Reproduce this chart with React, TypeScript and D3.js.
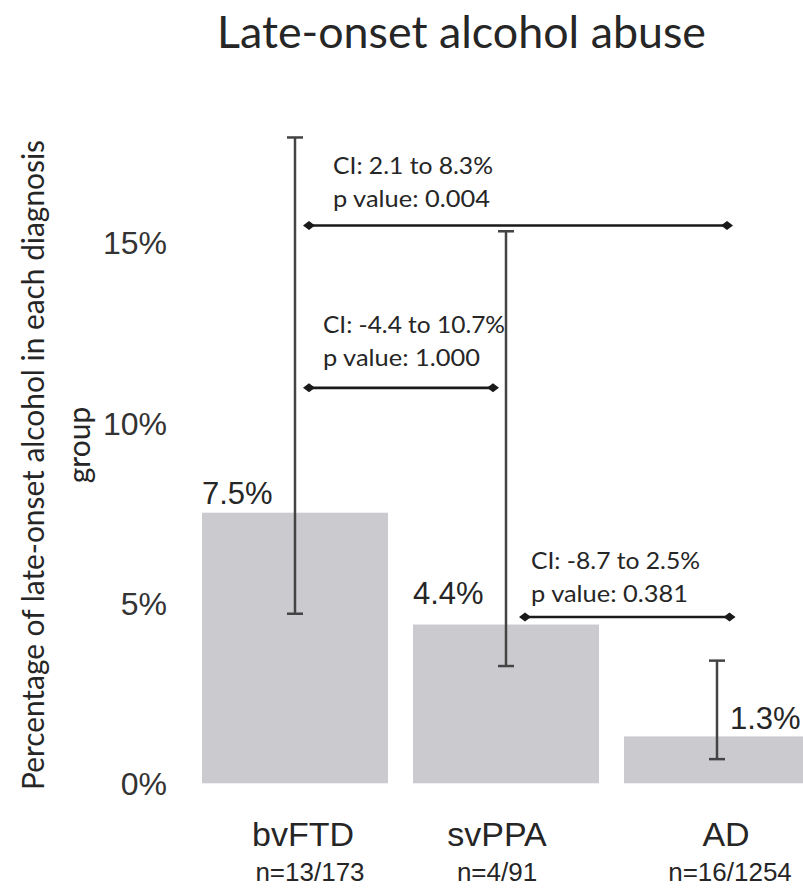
import React from "react";
import * as d3 from "d3";

// ---------- data ----------
const categories = ["bvFTD", "svPPA", "AD"];
const counts = ["n=13/173", "n=4/91", "n=16/1254"];
const percentages = [7.5, 4.4, 1.3];
const valueLabels = ["7.5%", "4.4%", "1.3%"];
const ciLow = [4.7, 3.25, 0.67];
const ciHigh = [17.9, 15.3, 3.4];
const yTicks = [0, 5, 10, 15];
const yTickLabels = ["0%", "5%", "10%", "15%"];
const compFrom = ["bvFTD", "bvFTD", "svPPA"];
const compTo = ["AD", "svPPA", "AD"];
const compCI = ["CI: 2.1 to 8.3%", "CI: -4.4 to 10.7%", "CI: -8.7 to 2.5%"];
const compP = ["p value: 0.004", "p value: 1.000", "p value: 0.381"];
const title = "Late-onset alcohol abuse";
const yLabelLines = ["Percentage of late-onset alcohol in each diagnosis", "group"];

// ---------- layout (positions/styles, not data) ----------
const W = 803;
const H = 889;
const compLevel = [15.46, 10.96, 4.61]; // arrow heights in axis units
const compDx = [
  [14, 10],
  [14, -13],
  [19, 12.5],
];
const compText = [
  { dx: 24, dy1: -51.4, dy2: -18.4, w1: 160, w2: 157 },
  { dx: 14, dy1: -54.4, dy2: -21.7, w1: 182, w2: 157 },
  { dx: 6, dy1: -47.7, dy2: -15.3, w1: 169, w2: 157 },
];
const valueLabelPos = [
  { dx: 0, gap: 9 },
  { dx: 0, gap: 20.5 },
  { dx: 106, gap: 7.5 },
];
const catLabelDx = [8, -9, 9];
const countLabelDx = [15, -9, 13];

const BAR = "#cbcbcf";
const INK = "#262626";
const ERR = "#444444";
const SANS = "'Liberation Sans', Arial, Helvetica, sans-serif";
const HUMAN = "Lato, 'Open Sans', sans-serif";

export default function App() {
  const x = d3.scaleBand<string>().domain(categories).range([202, 810]).paddingInner(0.1185).paddingOuter(0);
  const y = d3.scaleLinear().domain([0, 15]).range([783.3, 242.1]);
  const cx = (c: string) => (x(c) as number) + x.bandwidth() / 2;

  const diamond = (px: number, py: number) =>
    `M${px - 6},${py} L${px},${py - 4.5} L${px + 6},${py} L${px},${py + 4.5} Z`;

  return (
    <svg width={W} height={H} viewBox={`0 0 ${W} ${H}`} style={{ display: "block", position: "absolute", left: 0, top: 0, background: "#fff" }}>
      <rect x={0} y={0} width={W} height={H} fill="#fff" />
      {/* title */}
      <text x={217} y={48} fontFamily={HUMAN} fontSize={44} fill={INK} textLength={489} lengthAdjust="spacingAndGlyphs">
        {title}
      </text>

      {/* y-axis label */}
      <text transform={`translate(44,465) rotate(-90)`} textAnchor="middle" fontFamily={HUMAN} fontSize={30} fill={INK} textLength={650} lengthAdjust="spacingAndGlyphs">
        {yLabelLines[0]}
      </text>
      <text transform={`translate(90,445) rotate(-90)`} textAnchor="middle" fontFamily={HUMAN} fontSize={30} fill={INK}>
        {yLabelLines[1]}
      </text>

      {/* y tick labels */}
      {yTicks.map((t, i) => (
        <text key={t} x={167} y={y(t) + 12} textAnchor="end" fontFamily={SANS} fontSize={32} fill="#333">
          {yTickLabels[i]}
        </text>
      ))}

      {/* bars */}
      {categories.map((c, i) => (
        <rect key={c} x={x(c)} y={y(percentages[i])} width={x.bandwidth()} height={y(0) - y(percentages[i])} fill={BAR} />
      ))}

      {/* value labels */}
      {categories.map((c, i) => (
        <text key={c} x={(x(c) as number) + valueLabelPos[i].dx} y={y(percentages[i]) - valueLabelPos[i].gap} fontFamily={SANS} fontSize={31} fill={INK}>
          {valueLabels[i]}
        </text>
      ))}

      {/* error bars */}
      {categories.map((c, i) => {
        const px = cx(c);
        return (
          <g key={c} stroke={ERR} strokeWidth={2.5}>
            <line x1={px} x2={px} y1={y(ciLow[i])} y2={y(ciHigh[i])} />
            <line x1={px - 8} x2={px + 8} y1={y(ciLow[i])} y2={y(ciLow[i])} />
            <line x1={px - 8} x2={px + 8} y1={y(ciHigh[i])} y2={y(ciHigh[i])} />
          </g>
        );
      })}

      {/* comparison arrows */}
      {compFrom.map((f, i) => {
        const x1 = cx(f) + compDx[i][0];
        const x2 = cx(compTo[i]) + compDx[i][1];
        const py = y(compLevel[i]);
        const t = compText[i];
        return (
          <g key={i}>
            <line x1={x1} x2={x2} y1={py} y2={py} stroke="#1a1a1a" strokeWidth={2.6} />
            <path d={diamond(x1, py)} fill="#1a1a1a" />
            <path d={diamond(x2, py)} fill="#1a1a1a" />
            <text x={x1 + t.dx} y={py + t.dy1} fontFamily={HUMAN} fontSize={23} fill={INK} textLength={t.w1} lengthAdjust="spacingAndGlyphs">
              {compCI[i]}
            </text>
            <text x={x1 + t.dx} y={py + t.dy2} fontFamily={HUMAN} fontSize={23} fill={INK} textLength={t.w2} lengthAdjust="spacingAndGlyphs">
              {compP[i]}
            </text>
          </g>
        );
      })}

      {/* category labels */}
      {categories.map((c, i) => (
        <g key={c}>
          <text x={cx(c) + catLabelDx[i]} y={846} textAnchor="middle" fontFamily={SANS} fontSize={34} fill={INK}>
            {c}
          </text>
          <text x={cx(c) + countLabelDx[i]} y={881} textAnchor="middle" fontFamily={SANS} fontSize={26} fill={INK}>
            {counts[i]}
          </text>
        </g>
      ))}
    </svg>
  );
}
